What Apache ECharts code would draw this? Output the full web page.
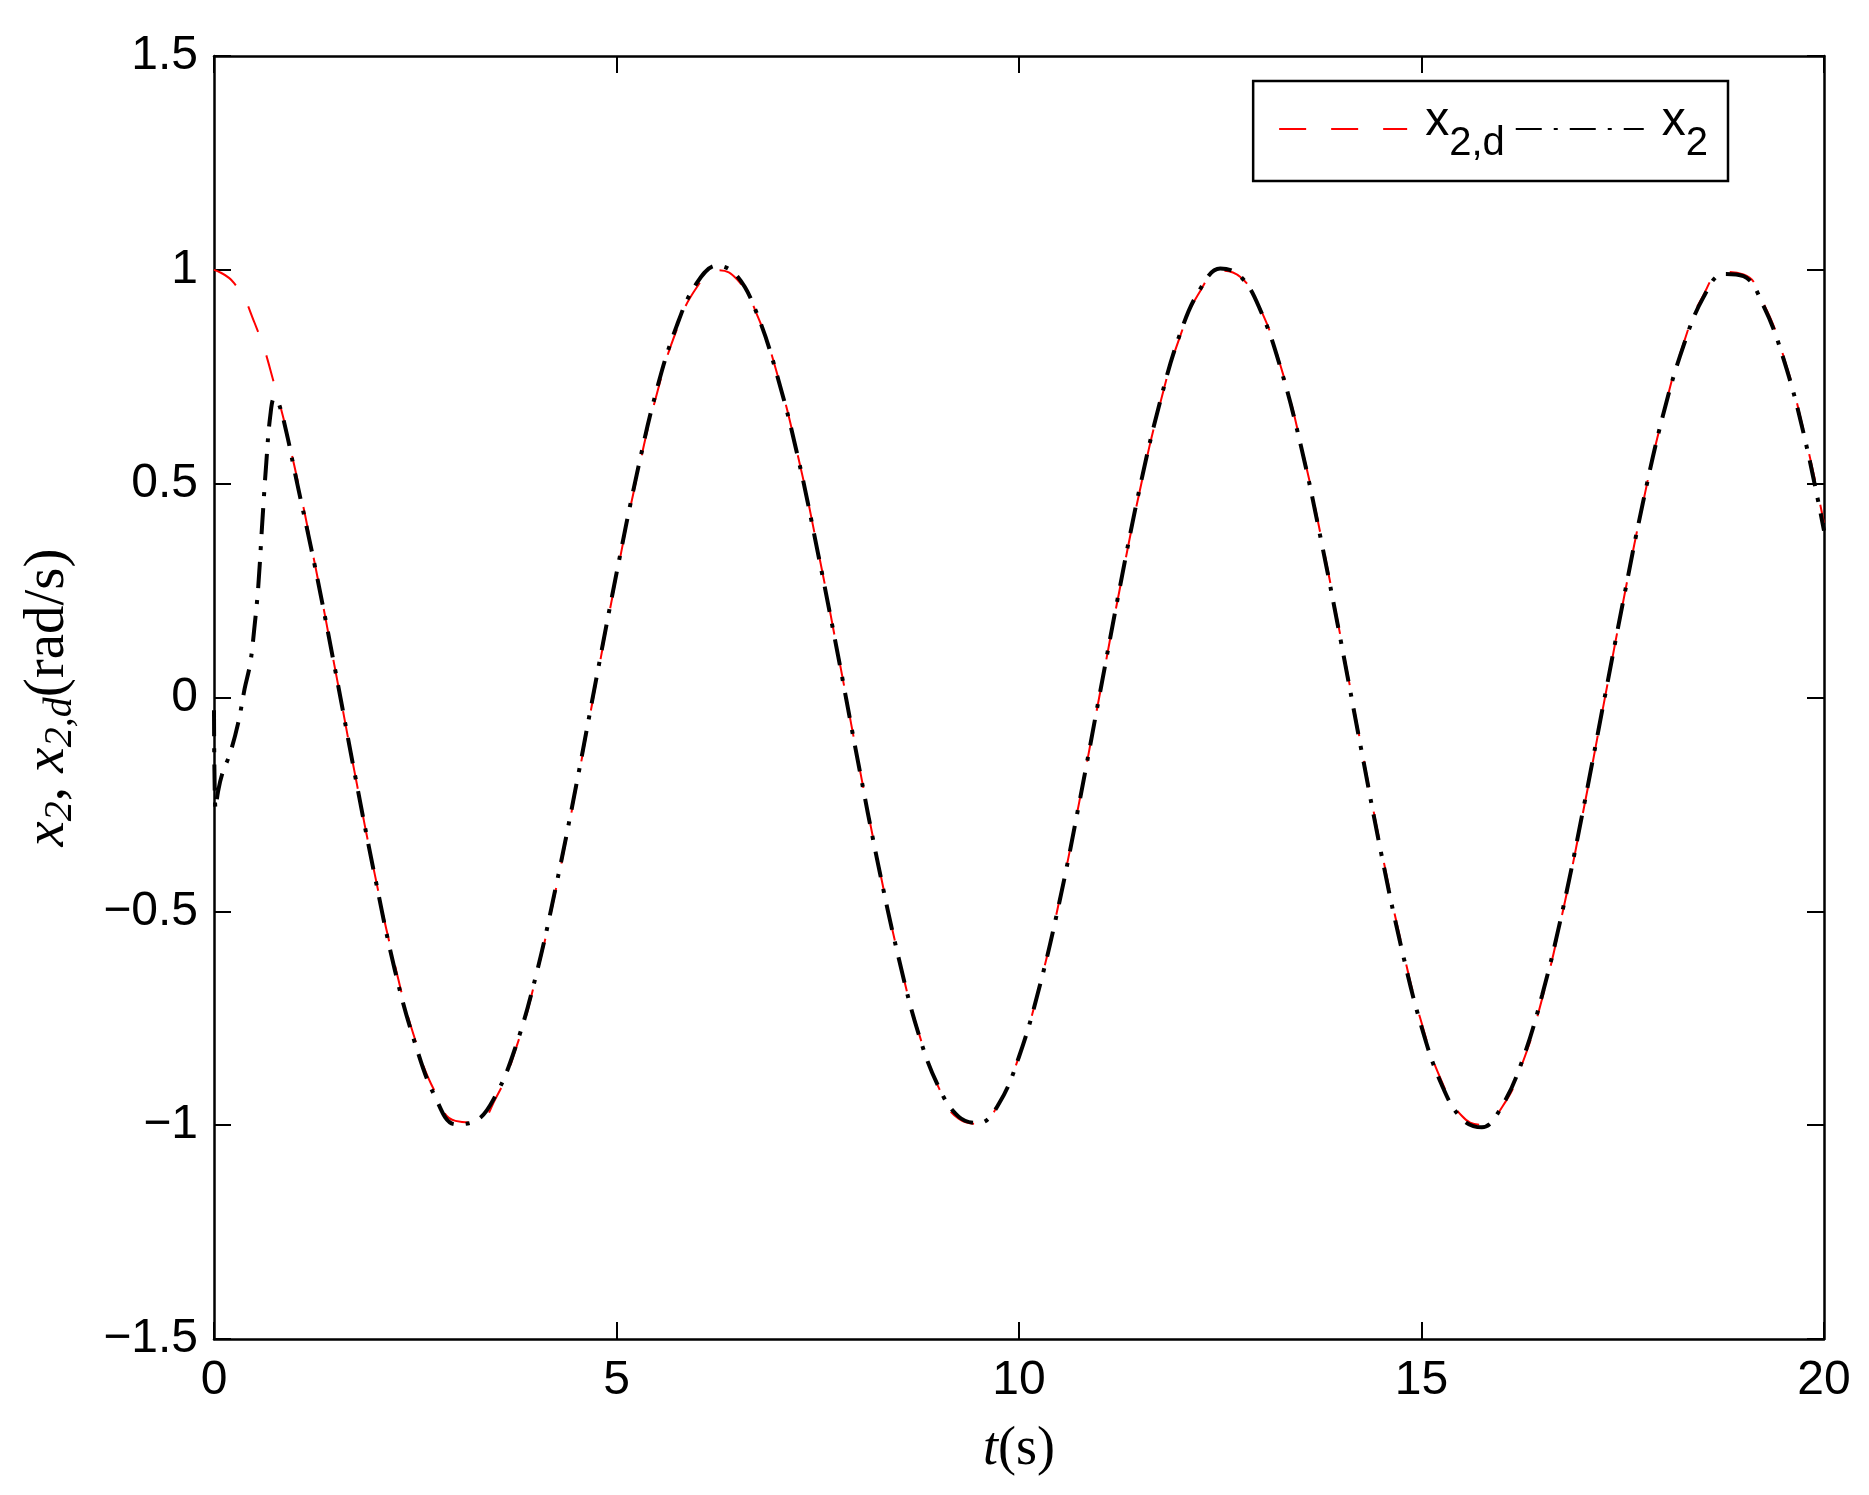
<!DOCTYPE html>
<html>
<head>
<meta charset="utf-8">
<script src="https://cdn.jsdelivr.net/npm/echarts@6/dist/echarts.min.js"></script>
<style>html,body{margin:0;padding:0;background:#fff;}#chart{width:1869px;height:1495px;}</style>
</head>
<body>
<div id="chart"></div>
<script>
// time samples (s) for the desired signal x_{2,d}
const tDesired = [0,0.25,0.5,0.75,1,1.25,1.5,1.75,2,2.25,2.5,2.75,3,3.25,3.5,3.75,4,4.25,4.5,4.75,5,5.25,5.5,5.75,6,6.25,6.5,6.75,7,7.25,7.5,7.75,8,8.25,8.5,8.75,9,9.25,9.5,9.75,10,10.25,10.5,10.75,11,11.25,11.5,11.75,12,12.25,12.5,12.75,13,13.25,13.5,13.75,14,14.25,14.5,14.75,15,15.25,15.5,15.75,16,16.25,16.5,16.75,17,17.25,17.5,17.75,18,18.25,18.5,18.75,19,19.25,19.5,19.75,20];
// x_{2,d} values
const x2dValues = [1,0.969,0.878,0.732,0.540,0.315,0.071,-0.178,-0.416,-0.628,-0.801,-0.924,-0.990,-0.994,-0.937,-0.821,-0.654,-0.446,-0.211,0.038,0.284,0.512,0.709,0.861,0.960,0.999,0.977,0.893,0.754,0.568,0.347,0.104,-0.146,-0.386,-0.602,-0.781,-0.911,-0.985,-0.997,-0.948,-0.839,-0.678,-0.476,-0.243,0.004,0.252,0.483,0.685,0.844,0.950,0.998,0.983,0.908,0.775,0.595,0.378,0.137,-0.113,-0.355,-0.575,-0.760,-0.897,-0.978,-0.999,-0.958,-0.857,-0.703,-0.505,-0.275,-0.029,0.219,0.454,0.660,0.825,0.940,0.995,0.989,0.921,0.796,0.622,0.408];
// time samples (s) for the actual state x_2
const tActual = [0,0.02,0.05,0.1,0.2,0.3,0.38,0.45,0.5,0.55,0.6,0.65,0.7,0.75,0.8,0.9,1,1.25,1.5,1.75,2,2.25,2.5,2.75,3,3.25,3.5,3.75,4,4.25,4.5,4.75,5,5.25,5.5,5.75,6,6.25,6.5,6.75,7,7.25,7.5,7.75,8,8.25,8.5,8.75,9,9.25,9.5,9.75,10,10.25,10.5,10.75,11,11.25,11.5,11.75,12,12.25,12.5,12.75,13,13.25,13.5,13.75,14,14.25,14.5,14.75,15,15.25,15.5,15.75,16,16.25,16.5,16.75,17,17.25,17.5,17.75,18,18.25,18.5,18.75,19,19.25,19.5,19.75,20];
// x_2 values
const x2Values = [-0.03,-0.26,-0.22,-0.18,-0.13,-0.06,0.02,0.08,0.16,0.26,0.41,0.55,0.66,0.70,0.69,0.62,0.53,0.31,0.07,-0.18,-0.42,-0.64,-0.81,-0.935,-0.998,-0.99,-0.93,-0.815,-0.65,-0.44,-0.205,0.045,0.29,0.52,0.72,0.87,0.97,1.01,0.985,0.895,0.75,0.565,0.34,0.10,-0.15,-0.39,-0.605,-0.785,-0.91,-0.98,-0.995,-0.95,-0.84,-0.68,-0.48,-0.245,0.005,0.255,0.49,0.69,0.85,0.955,1.003,0.985,0.905,0.77,0.59,0.37,0.13,-0.12,-0.365,-0.585,-0.77,-0.905,-0.985,-1.005,-0.955,-0.85,-0.695,-0.5,-0.27,-0.025,0.22,0.455,0.66,0.82,0.935,0.99,0.985,0.915,0.79,0.615,0.39];
// tick values
const xTicks = [0,5,10,15,20];
const yTicks = [-1.5,-1,-0.5,0,0.5,1,1.5];

const desiredData = tDesired.map((t,i)=>[t,x2dValues[i]]);
const actualData = tActual.map((t,i)=>[t,x2Values[i]]);

const sans = '"Liberation Sans", Arial, Helvetica, sans-serif';
const serif = '"Liberation Serif", "Times New Roman", serif';
const fmtNum = v => (v<0 ? '\u2212'+Math.abs(v) : String(v));

const chart = echarts.init(document.getElementById('chart'), null, {renderer:'canvas'});
const tickStyle = {show:true, inside:true, length:17, lineStyle:{color:'#000', width:2}};
const axisLine = {show:true, onZero:false, lineStyle:{color:'#000', width:2.5}};
chart.setOption({
  animation:false,
  backgroundColor:'#fff',
  grid:{left:214, right:45, top:56, bottom:156, containLabel:false},
  legend:{
    right:141, top:81, orient:'horizontal',
    padding:[17,20,17,25],
    borderColor:'#000', borderWidth:2.5, backgroundColor:'#fff',
    itemWidth:128, itemHeight:20, itemGap:10,
    itemStyle:{color:'rgba(0,0,0,0)', borderWidth:0, opacity:0},
    data:['x2d','x2'],
    formatter: n => n==='x2d' ? '{x|x}{s|2,d}' : '{x|x}{s|2}',
    textStyle:{
      color:'#000', padding:[0,0,0,13],
      rich:{
        x:{fontSize:48, fontFamily:sans, color:'#000', padding:[0,0,14,0]},
        s:{fontSize:40, fontFamily:sans, color:'#000', padding:[30,0,0,0]}
      }
    }
  },
  xAxis:[{
    type:'value', min:0, max:20, interval:5, position:'bottom',
    axisLine:axisLine, axisTick:tickStyle, splitLine:{show:false},
    axisLabel:{fontSize:48, fontFamily:sans, color:'#000', margin:18,
      formatter:v=> xTicks.includes(v)? fmtNum(v):''},
    name:'{i|t}{n|(s)}', nameLocation:'middle', nameGap:84,
    nameTextStyle:{rich:{i:{fontSize:54, fontFamily:serif, fontStyle:'italic', color:'#000'}, n:{fontSize:54, fontFamily:serif, color:'#000'}}}
  },{
    type:'value', min:0, max:20, interval:5, position:'top',
    axisLine:axisLine, axisTick:tickStyle, axisLabel:{show:false}, splitLine:{show:false}
  }],
  yAxis:[{
    type:'value', min:-1.5, max:1.5, interval:0.5, position:'left',
    axisLine:axisLine, axisTick:tickStyle, splitLine:{show:false},
    axisLabel:{fontSize:48, fontFamily:sans, color:'#000', margin:16,
      formatter:v=> fmtNum(Math.round(v*10)/10)},
    name:'{i|x}{s|2}{n|, }{i|x}{s|2,d}{n|(rad/s)}', nameLocation:'middle', nameGap:134, nameRotate:90,
    nameTextStyle:{rich:{
      i:{fontSize:57, fontFamily:serif, fontStyle:'italic', color:'#000'},
      s:{fontSize:40, fontFamily:serif, fontStyle:'italic', color:'#000', padding:[24,0,0,0]},
      n:{fontSize:57, fontFamily:serif, color:'#000'}
    }}
  },{
    type:'value', min:-1.5, max:1.5, interval:0.5, position:'right',
    axisLine:axisLine, axisTick:tickStyle, axisLabel:{show:false}, splitLine:{show:false}
  }],
  series:[{
    name:'x2d', type:'line', data:desiredData, smooth:true, showSymbol:false, symbol:'none',
    lineStyle:{color:'#ff0000', width:2, type:[27,25]}, itemStyle:{color:'#ff0000'}, z:2
  },{
    name:'x2', type:'line', data:actualData, smooth:0.4, showSymbol:false, symbol:'none',
    lineStyle:{color:'#000', width:4, type:[26,12,4,12]}, itemStyle:{color:'#000'}, z:3
  }]
});
</script>
</body>
</html>
